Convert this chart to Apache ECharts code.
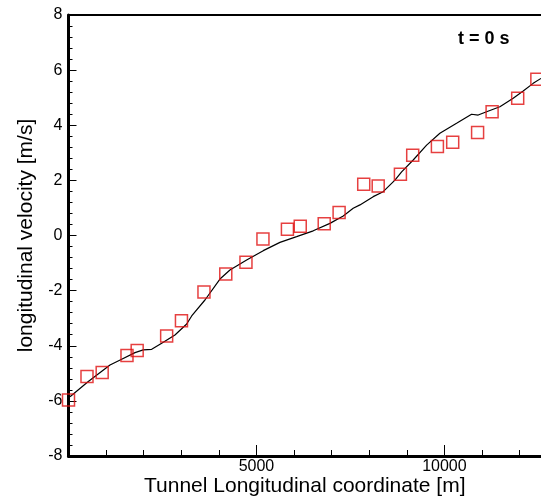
<!DOCTYPE html>
<html>
<head>
<meta charset="utf-8">
<script src="https://cdn.jsdelivr.net/npm/echarts@6/dist/echarts.min.js"></script>
<style>
  html, body { margin: 0; padding: 0; background: #fff; }
  #chart { width: 541px; height: 497px; }
</style>
</head>
<body>
<div id="chart"></div>
<script>
// Measured longitudinal velocity (square markers)
const measuredX = [0, 492, 896, 1556, 1827, 2611, 3005, 3604, 4184, 4721, 5173, 5824, 6165, 6803, 7199,
  7854, 8239, 8830, 9157, 9814, 10221, 10883, 11269, 11950, 12460];
const measuredV = [-5.97, -5.12, -4.97, -4.35, -4.17, -3.65, -3.09, -2.05, -1.40, -0.97, -0.13, 0.23, 0.34, 0.43, 0.83,
  1.86, 1.80, 2.22, 2.91, 3.23, 3.38, 3.74, 4.49, 4.98, 5.67];

// Simulated velocity profile (solid line)
const simX = [40, 527, 1104, 1415, 1769, 1989, 2213, 2479, 2832, 3144, 3277, 3630, 4029, 4295, 4739, 5181, 5625,
  6069, 6511, 6955, 7309, 7574, 7753, 8106, 8372, 8684, 8862, 9170, 9527, 9880, 10324, 10723, 10899, 11122,
  11476, 11830, 12096, 12362, 12570];
const simV = [-5.85, -5.30, -4.70, -4.49, -4.25, -4.15, -4.13, -3.91, -3.61, -3.21, -2.92, -2.34, -1.58, -1.25, -0.89,
  -0.55, -0.25, -0.04, 0.17, 0.44, 0.71, 0.99, 1.11, 1.41, 1.59, 2.01, 2.31, 2.74, 3.28, 3.71, 4.07, 4.40, 4.37,
  4.49, 4.67, 4.98, 5.24, 5.52, 5.70];

const xMajorLabels = [5000, 10000];
const yTickLabels = [-8, -6, -4, -2, 0, 2, 4, 6, 8];
const timeLabel = 't = 0 s';

const FONT = 'Liberation Sans, Arial, sans-serif';
const X_MIN = 0, X_MAX = 12570;

const zip = (xs, ys) => xs.map((x, i) => [x, ys[i]]);

const chart = echarts.init(document.getElementById('chart'), null, { renderer: 'canvas' });

chart.setOption({
  animation: false,
  backgroundColor: '#ffffff',
  grid: { left: 68.5, right: 0, top: 15, bottom: 41, containLabel: false, outerBoundsMode: 'none' },
  xAxis: [
    {
      type: 'value', position: 'bottom', min: X_MIN, max: X_MAX, interval: 5000,
      name: 'Tunnel Longitudinal coordinate [m]', nameLocation: 'middle', nameGap: 20,
      nameMoveOverlap: false,
      nameTextStyle: { fontFamily: FONT, fontSize: 21, color: '#000' },
      axisLine: { show: true, onZero: false, lineStyle: { color: '#000', width: 3 } },
      axisTick: { show: true, inside: true, length: 11, lineStyle: { color: '#000', width: 1 } },
      axisLabel: {
        fontFamily: FONT, fontSize: 16, color: '#000', margin: 3,
        showMinLabel: false, showMaxLabel: false,
        formatter: v => (xMajorLabels.indexOf(v) >= 0 ? String(v) : '')
      },
      splitLine: { show: false }
    },
    {
      type: 'value', position: 'bottom', min: X_MIN, max: X_MAX, interval: 1000,
      axisLine: { show: false, onZero: false },
      axisTick: { show: true, inside: true, length: 6, lineStyle: { color: '#000', width: 1 } },
      axisLabel: { show: false },
      splitLine: { show: false }
    },
    {
      type: 'value', position: 'top', min: X_MIN, max: X_MAX,
      axisLine: { show: true, onZero: false, lineStyle: { color: '#000', width: 2 } },
      axisTick: { show: false }, axisLabel: { show: false }, splitLine: { show: false }
    }
  ],
  yAxis: {
    type: 'value', min: -8, max: 8, interval: 2,
    name: 'longitudinal velocity [m/s]', nameLocation: 'middle', nameGap: 32, nameRotate: 90,
    nameMoveOverlap: false,
    nameTextStyle: { fontFamily: FONT, fontSize: 21, color: '#000' },
    axisLine: { show: true, onZero: false, lineStyle: { color: '#000', width: 3 } },
    axisTick: { show: true, inside: true, length: 8, lineStyle: { color: '#000', width: 1 } },
    minorTick: { show: true, splitNumber: 5, length: 4, lineStyle: { color: '#000', width: 1 } },
    axisLabel: {
      fontFamily: FONT, fontSize: 16, color: '#000', margin: 6,
      formatter: v => (yTickLabels.indexOf(v) >= 0 ? String(v) : '')
    },
    splitLine: { show: false }
  },
  series: [
    {
      type: 'line', xAxisIndex: 0, data: zip(simX, simV),
      showSymbol: false, symbol: 'none', smooth: false,
      lineStyle: { color: '#000', width: 1.2 }, z: 2
    },
    {
      type: 'scatter', xAxisIndex: 0, data: zip(measuredX, measuredV),
      symbol: 'rect', symbolSize: 12, clip: false,
      itemStyle: { color: 'rgba(0,0,0,0)', borderColor: '#e01010', borderWidth: 1.5 },
      emphasis: { disabled: true }, z: 3
    }
  ],
  graphic: [
    {
      type: 'text', left: 458, top: 30,
      style: { text: timeLabel, font: 'bold 18px ' + FONT, fill: '#000' }
    }
  ]
});
</script>
</body>
</html>
